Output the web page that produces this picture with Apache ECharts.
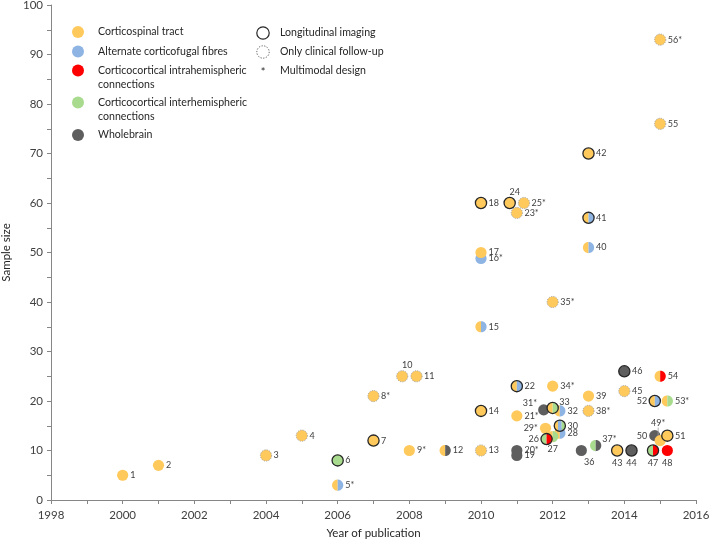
<!DOCTYPE html>
<html>
<head>
<meta charset="utf-8">
<script src="https://cdn.jsdelivr.net/npm/echarts@6/dist/echarts.min.js"></script>
<style>
  html, body { margin: 0; padding: 0; background: #fff; }
  #chart { width: 709px; height: 541px; }
</style>
</head>
<body>
<div id="chart"></div>
<script>
// study data (draw order = array order)
const studyIds = ['1', '2', '3', '4', '5*', '6', '7', '8*', '9*', '10', '11', '12', '13', '14', '15', '16*', '17', '18',
  '19', '20*', '21*', '22', '23*', '24', '25*', '29*', '28', '27', '30', '26', '31*', '32', '33', '34*', '35*',
  '36', '37*', '38*', '39', '40', '41', '42', '43', '44', '45', '46', '47', '48', '50', '49*', '51', '52', '53*',
  '54', '55', '56*'];
const pubYears = [2000, 2001, 2004, 2005, 2006, 2006, 2007, 2007, 2008, 2007.8, 2008.2, 2009, 2010, 2010, 2010, 2010, 2010, 2010,
  2011, 2011, 2011, 2011, 2011, 2010.8, 2011.2, 2011.8, 2012.2, 2012, 2012.2, 2011.83, 2011.75, 2012.2, 2012, 2012, 2012,
  2012.8, 2013.2, 2013, 2013, 2013, 2013, 2013, 2013.8, 2014.2, 2014, 2014, 2014.8, 2015.2, 2014.85, 2015, 2015.2, 2014.85, 2015.2,
  2015, 2015, 2015];
const sampleSizes = [5, 7, 9, 13, 3, 8, 12, 21, 10, 25, 25, 10, 10, 18, 35, 48.8, 50, 60,
  9, 10, 17, 23, 58, 60, 60, 14.5, 13.5, 12.8, 15, 12.3, 18.2, 18, 18.6, 23, 40,
  10, 11, 18, 21, 51, 57, 70, 10, 10, 22, 26, 10, 10, 13, 12, 13, 20, 20,
  25, 76, 93];
// CST corticospinal, ACF alternate corticofugal, INTRA intrahemispheric, INTER interhemispheric, WB wholebrain
const tracts = ['CST', 'CST', 'CST', 'CST', 'CST|ACF', 'INTER', 'CST', 'CST', 'CST', 'CST', 'CST', 'CST|WB', 'CST', 'CST', 'CST|ACF', 'ACF', 'CST', 'CST',
  'WB', 'WB', 'CST', 'CST|ACF', 'CST', 'CST', 'CST', 'CST', 'CST|ACF', 'CST|INTER', 'CST|ACF|INTER', 'INTER|INTRA', 'WB', 'CST|ACF', 'CST|INTER', 'CST', 'CST',
  'WB', 'INTER|WB', 'CST', 'CST', 'CST|ACF', 'CST|ACF', 'CST', 'CST', 'WB', 'CST', 'WB', 'INTER|INTRA', 'INTRA', 'WB', 'CST', 'CST', 'CST|ACF', 'CST|INTER',
  'CST|INTRA', 'CST', 'CST'];
// L longitudinal imaging, F only clinical follow-up, '' neither
const designs = ['', '', 'F', 'F', '', 'L', 'L', 'F', '', 'F', 'F', '', 'F', 'L', '', '', '', 'L',
  '', '', '', 'L', 'F', 'L', 'F', '', '', '', 'L', 'L', '', '', 'L', '', 'F',
  '', '', 'F', '', '', 'L', 'L', 'L', 'L', 'F', 'L', 'L', '', '', '', 'L', 'L', '',
  '', 'F', 'F'];

const legendTracts = ['Corticospinal tract', 'Alternate corticofugal fibres', 'Corticocortical intrahemispheric\nconnections',
  'Corticocortical interhemispheric\nconnections', 'Wholebrain'];
const legendDesigns = ['Longitudinal imaging', 'Only clinical follow-up', 'Multimodal design'];

const tractColor = { CST: '#FFC95C', ACF: '#8EB4E3', INTRA: '#FF0000', INTER: '#A9DB8E', WB: '#5E5E5E' };
const legendKeys = ['CST', 'ACF', 'INTRA', 'INTER', 'WB'];

// label placement exceptions (default: right of the marker)
const labelPlace = {
  '10': 'top', '24': 'top', '27': 'bottom', '43': 'bottom', '44': 'bottom', '47': 'bottom', '48': 'bottom',
  '36': 'bottomRight', '37*': 'topRight', '33': 'topRight', '31*': 'topLeft', '29*': 'left', '26': 'left',
  '50': 'left', '52': 'left', '49*': 'topLine'
};

const FONT = 'Lato, "DejaVu Sans", sans-serif';
const R = 5.6;

function strip(cx, cy, r, x0, x1) {
  const a = Math.acos(Math.max(-1, Math.min(1, (x1 - cx) / r)));
  const b = Math.acos(Math.max(-1, Math.min(1, (x0 - cx) / r)));
  const pts = [];
  const n = 14;
  for (let k = 0; k <= n; k++) {
    const t = b + (a - b) * k / n;
    pts.push([cx + r * Math.cos(t), cy - r * Math.sin(t)]);
  }
  for (let k = 0; k <= n; k++) {
    const t = a + (b - a) * k / n;
    pts.push([cx + r * Math.cos(t), cy + r * Math.sin(t)]);
  }
  return pts;
}

function renderItem(params, api) {
  const i = params.dataIndex;
  const c = api.coord([api.value(0), api.value(1)]);
  const fills = tracts[i].split('|').map(k => tractColor[k]);
  const children = [];
  if (fills.length === 1) {
    children.push({ type: 'circle', shape: { cx: c[0], cy: c[1], r: R }, style: { fill: fills[0] } });
  } else {
    const n = fills.length;
    for (let k = 0; k < n; k++) {
      const x0 = c[0] - R + 2 * R * k / n;
      const x1 = c[0] - R + 2 * R * (k + 1) / n;
      children.push({ type: 'polygon', shape: { points: strip(c[0], c[1], R, x0, x1) }, style: { fill: fills[k] } });
    }
  }
  if (designs[i] === 'L') {
    children.push({ type: 'circle', shape: { cx: c[0], cy: c[1], r: R }, style: { fill: 'none', stroke: '#262626', lineWidth: 1.3 } });
  } else if (designs[i] === 'F') {
    children.push({ type: 'circle', shape: { cx: c[0], cy: c[1], r: R }, style: { fill: 'none', stroke: '#9c9c9c', lineWidth: 0.9, lineDash: [1.2, 1.2] } });
  }
  // label
  const id = studyIds[i];
  const pl = labelPlace[id] || 'right';
  let x = c[0] + R + 2, y = c[1], align = 'left', va = 'middle';
  if (pl === 'top') { x = c[0] + 5; y = c[1] - R - 1; align = 'center'; va = 'bottom'; }
  else if (pl === 'bottom') { x = c[0]; y = c[1] + R + 2; align = 'center'; va = 'top'; }
  else if (pl === 'bottomRight') { x = c[0] + 8; y = c[1] + R + 1; align = 'center'; va = 'top'; }
  else if (pl === 'topRight') { x = c[0] + R + 1; y = c[1] - 6; align = 'left'; va = 'middle'; }
  else if (pl === 'topLeft') { x = c[0] - R - 1; y = c[1] - 7; align = 'right'; va = 'middle'; }
  else if (pl === 'left') { x = c[0] - R - 2; y = c[1]; align = 'right'; va = 'middle'; }
  else if (pl === 'topLine') {
    x = c[0] - 2; y = c[1] - 13; align = 'center'; va = 'bottom';
    children.unshift({ type: 'line', shape: { x1: c[0] - 2, y1: c[1] - 13, x2: c[0] - 2, y2: c[1] - 3 }, style: { stroke: '#a0a0a0', lineWidth: 0.8 } });
  }
  children.push({
    type: 'text',
    style: { text: id, x: x, y: y, align: align, verticalAlign: va, fill: '#404040', font: '9px ' + FONT }
  });
  return { type: 'group', children: children };
}

const points = pubYears.map((yr, i) => [yr, sampleSizes[i]]);

// legend built as graphics inside the plot area
const legendGraphics = [];
const legendY = [32, 51.5, 70.5, 102.5, 135];
legendKeys.forEach((k, j) => {
  legendGraphics.push({ type: 'circle', shape: { cx: 78, cy: legendY[j], r: 6 }, style: { fill: tractColor[k] } });
  legendGraphics.push({
    type: 'text', style: {
      text: legendTracts[j], x: 98, y: legendY[j] - 7, fill: '#262626', font: '10.6px ' + FONT,
      lineHeight: 14, verticalAlign: 'top'
    }
  });
});
const designY = [33, 52, 70.5];
legendGraphics.push({ type: 'circle', shape: { cx: 263, cy: designY[0], r: 6.2 }, style: { fill: 'none', stroke: '#262626', lineWidth: 1.2 } });
legendGraphics.push({ type: 'circle', shape: { cx: 263, cy: designY[1], r: 6.2 }, style: { fill: 'none', stroke: '#555', lineWidth: 1, lineDash: [1.2, 1.5] } });
legendGraphics.push({ type: 'text', style: { text: '*', x: 263, y: designY[2] + 2, align: 'center', verticalAlign: 'middle', fill: '#262626', font: '11px ' + FONT } });
legendDesigns.forEach((t, j) => {
  legendGraphics.push({ type: 'text', style: { text: t, x: 280, y: designY[j], verticalAlign: 'middle', fill: '#262626', font: '10.6px ' + FONT } });
});

const axisLineStyle = { color: '#868686', width: 1 };

const chart = echarts.init(document.getElementById('chart'));
chart.setOption({
  animation: false,
  backgroundColor: '#fff',
  textStyle: { fontFamily: FONT },
  grid: { left: 51, right: 13, top: 5, bottom: 41, containLabel: false, outerBoundsMode: 'none' },
  xAxis: {
    type: 'value', min: 1998, max: 2016, interval: 2,
    name: 'Year of publication', nameLocation: 'middle', nameGap: 27,
    nameTextStyle: { color: '#262626', fontSize: 11.5, fontFamily: FONT },
    axisLine: { lineStyle: axisLineStyle },
    axisTick: { show: true, length: 4, lineStyle: axisLineStyle },
    minorTick: { show: true, splitNumber: 2, length: 4, lineStyle: axisLineStyle },
    axisLabel: { color: '#404040', fontSize: 11.5, margin: 9, formatter: v => String(v) },
    splitLine: { show: false }
  },
  yAxis: {
    type: 'value', min: 0, max: 100, interval: 10,
    name: 'Sample size', nameLocation: 'middle', nameGap: 38,
    nameTextStyle: { color: '#262626', fontSize: 11.5, fontFamily: FONT },
    axisLine: { show: true, lineStyle: axisLineStyle },
    axisTick: { show: true, length: 4, lineStyle: axisLineStyle },
    minorTick: { show: true, splitNumber: 2, length: 4, lineStyle: axisLineStyle },
    axisLabel: { color: '#404040', fontSize: 11.5, margin: 8 },
    splitLine: { show: false }
  },
  graphic: legendGraphics,
  series: [{
    type: 'custom',
    renderItem: renderItem,
    clip: false,
    data: points
  }]
});
</script>
</body>
</html>
